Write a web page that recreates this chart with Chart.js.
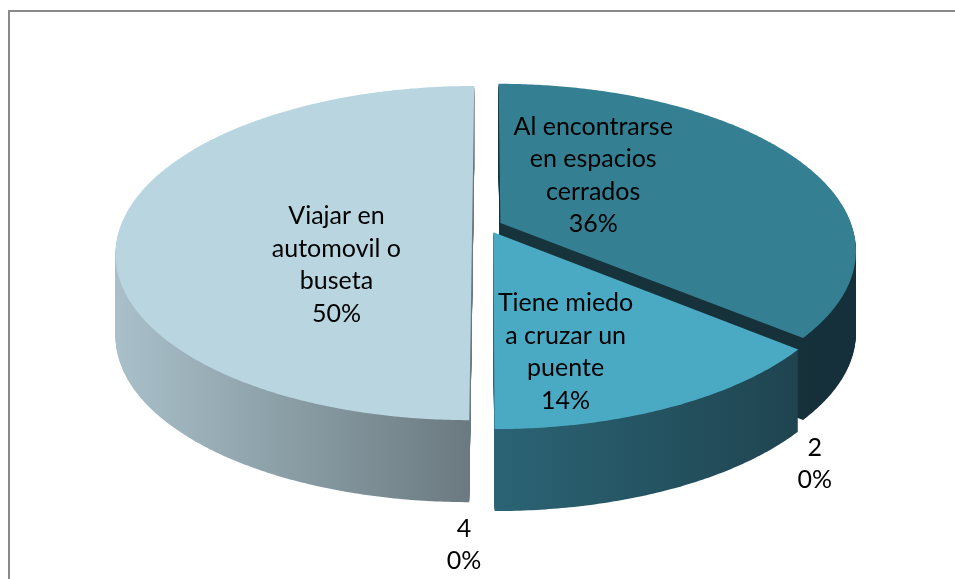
<!DOCTYPE html>
<html><head><meta charset="utf-8">
<script src="https://cdn.jsdelivr.net/npm/chart.js@4/dist/chart.umd.min.js"></script>
<style>
html,body{margin:0;padding:0;background:#fff;overflow:hidden;width:955px;height:579px;}
#frame{position:absolute;left:8px;top:10px;width:1200px;height:900px;border-left:2px solid #8a8a8a;border-top:2px solid #8a8a8a;}
#c{position:absolute;left:0;top:0;}
</style></head><body>
<div id="frame"></div>
<canvas id="c" width="955" height="579"></canvas>
<script>
// ---- data ----
const categories = [['Al encontrarse','en espacios','cerrados'], ['Tiene miedo','a cruzar un','puente'], ['2'], ['Viajar en','automovil o','buseta'], ['4']];
const values = [36, 14, 0, 50, 0];

// ---- style ----
const topColors = ['#357F92', '#4AAAC4', '#4AAAC4', '#B9D6E0', '#B9D6E0'];
const wallColors = [['#17333B','#15303A'], ['#2B6475','#1F4450'], ['#2B6475','#1F4450'], ['#A9C0CA','#6A797F'], ['#A9C0CA','#6A797F']];
const labelPlace = [{t:0.326,r:0.416,da:0},{t:0.692,r:0.675,da:0},{t:0,r:1.366,da:-33.5},{t:0.3226,r:0.436,da:0},{t:0,r:1.531,da:-178.15}];
const VIEW = {cx:487, cy:226, a:351.5, b:162.7, p:0.162, depth:82};
const FONT = '25px Lato';
const LINE_H = 32.5;

function proj(u, v) {
  const d = 1 - VIEW.p * v;
  return [VIEW.cx + VIEW.a * u / d, VIEW.cy + VIEW.b * v / d];
}
function sliceGeom(arc) {
  const r = arc.outerRadius;
  const mid = (arc.startAngle + arc.endAngle) / 2;
  const off = (arc.options.offset || 0) / r;
  return {ou: Math.cos(mid) * off, ov: Math.sin(mid) * off, s: arc.startAngle, e: arc.endAngle, mid};
}
function slicePath(ctx, g, dy) {
  ctx.beginPath();
  let [x, y] = proj(g.ou, g.ov);
  ctx.moveTo(x, y + dy);
  const n = Math.max(2, Math.ceil((g.e - g.s) / 0.01));
  for (let i = 0; i <= n; i++) {
    const t = g.s + (g.e - g.s) * i / n;
    [x, y] = proj(g.ou + Math.cos(t), g.ov + Math.sin(t));
    ctx.lineTo(x, y + dy);
  }
  ctx.closePath();
}
function sliceXRange(g) {
  let mn = Infinity, mx = -Infinity;
  const pts = [[g.ou, g.ov]];
  for (let i = 0; i <= 60; i++) { const t = g.s + (g.e - g.s) * i / 60; pts.push([g.ou + Math.cos(t), g.ov + Math.sin(t)]); }
  pts.forEach(p => { const [x] = proj(p[0], p[1]); mn = Math.min(mn, x); mx = Math.max(mx, x); });
  return [mn, mx];
}

const pie3d = {
  id: 'pie3d',
  beforeDatasetsDraw(chart) {
    const ctx = chart.ctx;
    const meta = chart.getDatasetMeta(0);
    const geoms = meta.data.map((arc, i) => ({i, g: sliceGeom(arc), v: values[i]}));
    const drawn = geoms.filter(o => o.v > 0);
    // walls, back to front
    const order = drawn.slice().sort((a, b) => Math.sin(a.g.mid) - Math.sin(b.g.mid));
    ctx.save();
    order.forEach(o => {
      const [x0, x1] = sliceXRange(o.g);
      const grad = ctx.createLinearGradient(x0, 0, x1, 0);
      grad.addColorStop(0, wallColors[o.i][0]);
      grad.addColorStop(1, wallColors[o.i][1]);
      ctx.fillStyle = grad;
      for (let k = VIEW.depth; k >= 1; k--) { slicePath(ctx, o.g, k); ctx.fill(); }
    });
    drawn.forEach(o => {
      ctx.fillStyle = topColors[o.i];
      slicePath(ctx, o.g, 0);
      ctx.fill();
    });
    // labels
    const total = values.reduce((a, b) => a + b, 0);
    ctx.font = FONT;
    ctx.fillStyle = '#000000';
    ctx.textAlign = 'center';
    ctx.textBaseline = 'middle';
    geoms.forEach(o => {
      const lp = labelPlace[o.i];
      const ang = o.g.s + lp.t * (o.g.e - o.g.s) + lp.da * Math.PI / 180;
      const [x, y] = proj(o.g.ou + lp.r * Math.cos(ang), o.g.ov + lp.r * Math.sin(ang));
      const lines = categories[o.i].concat([Math.round(o.v / total * 100) + '%']);
      const y0 = y - (lines.length - 1) * LINE_H / 2;
      lines.forEach((ln, j) => ctx.fillText(ln, x, y0 + j * LINE_H));
    });
    ctx.restore();
    return false;
  }
};

new Chart(document.getElementById('c'), {
  type: 'pie',
  data: {
    labels: categories,
    datasets: [{ data: values, backgroundColor: topColors, borderWidth: 0, offset: 12 }]
  },
  options: {
    responsive: false,
    animation: false,
    devicePixelRatio: 1,
    events: [],
    plugins: { legend: { display: false }, tooltip: { enabled: false } }
  },
  plugins: [pie3d]
});
</script>
</body></html>
